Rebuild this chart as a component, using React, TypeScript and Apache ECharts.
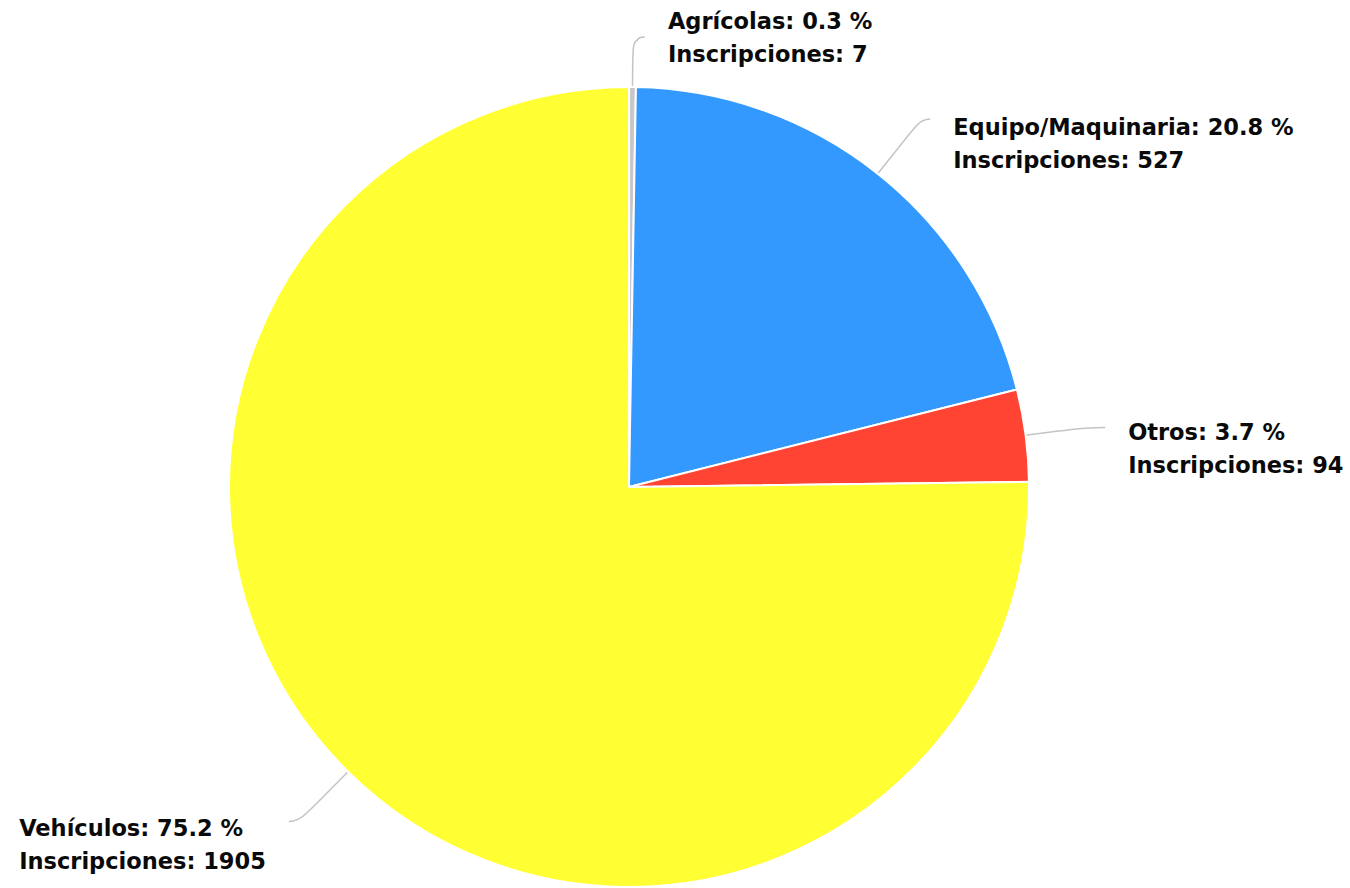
import React, { useEffect, useRef } from "react";
import * as echarts from "echarts";

const categories = ["Agrícolas", "Equipo/Maquinaria", "Otros", "Vehículos"];
const inscripciones = [7, 527, 94, 1905];
const colors = ["#C8C8C8", "#3399FF", "#FF4433", "#FFFF33"];

// label placement tweaks (styling only)
const lineLen = [50, 70, 60, 70];
const lineLen2 = [12, 9, 20, 10];
const labelDy = [0, 25, 21, 23];

export default function App() {
  const ref = useRef<HTMLDivElement>(null);
  useEffect(() => {
    if (!ref.current) return;
    const chart = echarts.init(ref.current, null, { renderer: "svg" });
    const data = categories.map((name, i) => ({
      name,
      value: inscripciones[i],
      itemStyle: { color: colors[i] },
      labelLine: { length: lineLen[i], length2: lineLen2[i] },
    }));
    chart.setOption({
      animation: false,
      backgroundColor: "#ffffff",
      series: [
        {
          type: "pie",
          center: [629, 487],
          radius: [0, 400],
          startAngle: 90,
          clockwise: true,
          percentPrecision: 1,
          data,
          itemStyle: { borderColor: "#ffffff", borderWidth: 2 },
          label: {
            show: true,
            formatter: (p: any) => `${p.name}: ${p.percent.toFixed(1)} %\nInscripciones: ${p.value}`,
            fontFamily: "DejaVu Sans",
            fontWeight: "bold",
            fontSize: 22.5,
            lineHeight: 33,
            color: "#0a0a0a",
            distanceToLabelLine: 23,
            overflow: "none",
            bleedMargin: 0,
          },
          labelLine: {
            show: true,
            smooth: 0.6,
            lineStyle: { color: "#C4C4C4", width: 1.5 },
          },
          labelLayout: (params: any) => {
            const i = params.dataIndex;
            const res: any = { dy: labelDy[i] };
            if (categories[i] === "Vehículos") {
              res.align = "left";
              res.dx = -params.labelRect.width;
            }
            return res;
          },
          emphasis: { disabled: true },
        },
      ],
    });
    return () => chart.dispose();
  }, []);
  return (
    <div
      ref={ref}
      style={{ position: "fixed", left: 0, top: 0, width: 1350, height: 888 }}
    />
  );
}
